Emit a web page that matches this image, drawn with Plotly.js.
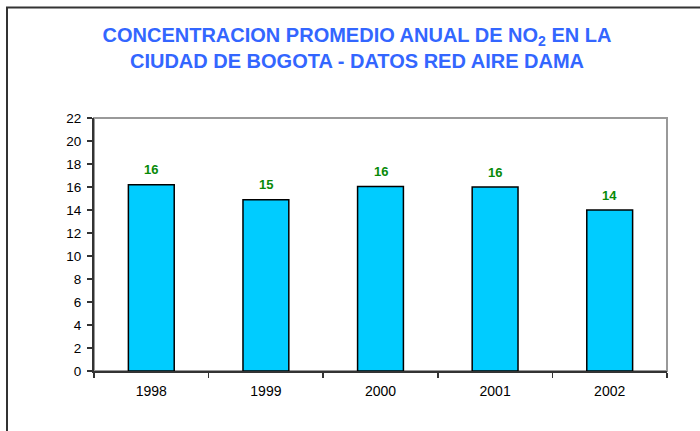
<!DOCTYPE html>
<html>
<head>
<meta charset="utf-8">
<script src="https://cdn.plot.ly/plotly-3.0.1.min.js"></script>
<style>html,body{margin:0;padding:0;background:#fff;}#chart{width:700px;height:431px;}</style>
</head>
<body>
<div id="chart"></div>
<script>
const years = ['1998', '1999', '2000', '2001', '2002'];
const no2Values = [16.2, 14.9, 16.05, 16.0, 14.0];
const yTicks = [0, 2, 4, 6, 8, 10, 12, 14, 16, 18, 20, 22];

const W = 700, H = 431;
const M = {l: 94, r: 33, t: 118, b: 60};
const pw = W - M.l - M.r, ph = H - M.t - M.b;
const px = x => (x - M.l) / pw;
const py = y => (H - M.b - y) / ph;

const trace = {
  type: 'bar',
  x: years,
  y: no2Values,
  marker: {color: '#00CCFF', line: {color: '#000000', width: 1.5}},
  hoverinfo: 'x+y'
};

const labels = years.map((yr, i) => ({
  x: i, y: no2Values[i], xref: 'x', yref: 'y',
  text: String(Math.round(no2Values[i])),
  showarrow: false, yanchor: 'middle', yshift: 15,
  font: {family: 'Arial, Liberation Sans, sans-serif', size: 13, color: '#088A08', weight: 'bold'}
}));

const layout = {
  width: W, height: H,
  margin: M,
  paper_bgcolor: '#ffffff',
  plot_bgcolor: '#ffffff',
  showlegend: false,
  bargap: 0.6,
  title: {
    text: '<b>CONCENTRACION PROMEDIO ANUAL DE NO<sub>2</sub> EN LA<br>CIUDAD DE BOGOTA - DATOS RED AIRE DAMA</b>',
    font: {family: 'Arial, Liberation Sans, sans-serif', size: 20, color: '#3366FF'},
    x: 357 / W, xanchor: 'center',
    y: 1 - 42 / H, yanchor: 'middle', yref: 'container'
  },
  xaxis: {
    type: 'category',
    categoryorder: 'array', categoryarray: years,
    range: [-0.5, years.length - 0.5],
    showline: true, linecolor: '#333333', linewidth: 2,
    ticks: 'outside', tickson: 'boundaries', ticklen: 5, tickcolor: '#333333', tickwidth: 1.5,
    ticklabelstandoff: 6, tickangle: 0,
    showgrid: false, zeroline: false,
    tickfont: {family: 'Arial, Liberation Sans, sans-serif', size: 14, color: '#000000'}
  },
  yaxis: {
    range: [0, 22],
    tickvals: yTicks,
    showline: true, linecolor: '#333333', linewidth: 2,
    ticks: 'outside', ticklen: 5, tickcolor: '#333333', tickwidth: 1.5,
    ticklabelstandoff: 3,
    showgrid: false, zeroline: false,
    tickfont: {family: 'Arial, Liberation Sans, sans-serif', size: 13.5, color: '#000000'}
  },
  annotations: labels,
  shapes: [
    {type: 'rect', xref: 'paper', yref: 'paper', x0: 0, x1: 1, y0: 0, y1: 1,
     line: {color: '#999999', width: 2}, layer: 'below'},
    {type: 'line', xref: 'paper', yref: 'paper', x0: px(7), x1: px(7), y0: py(7), y1: py(440),
     line: {color: '#333333', width: 2}},
    {type: 'line', xref: 'paper', yref: 'paper', x0: px(6), x1: px(710), y0: py(7.5), y1: py(7.5),
     line: {color: '#333333', width: 2}}
  ]
};

Plotly.newPlot('chart', [trace], layout, {displayModeBar: false, staticPlot: true});
</script>
</body>
</html>
